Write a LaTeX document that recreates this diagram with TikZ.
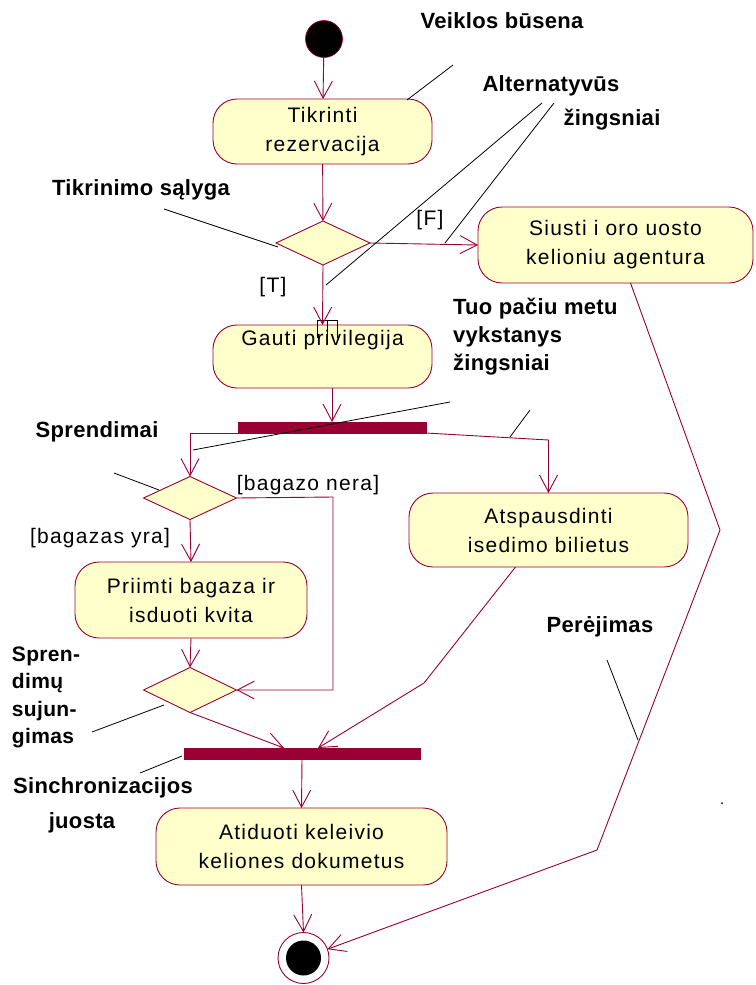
\documentclass[tikz,border=0pt]{standalone}
\usepackage{fontspec}
\setmainfont{Liberation Sans}[LetterSpace=6]
\newfontfamily\notefont{Liberation Sans}[LetterSpace=1.5]
\usetikzlibrary{arrows.meta,shapes.geometric,calc}

\definecolor{rosered}{HTML}{990033}
\definecolor{roseyellow}{HTML}{FFFFCC}

\begin{document}
\begin{tikzpicture}[x=1pt,y=-1pt,
  every node/.style={inner sep=0pt, outer sep=0pt},
  act/.style={rectangle, rounded corners=24pt, draw=rosered, fill=roseyellow,
    line width=0.9pt, align=center, font=\fontsize{21}{29}\selectfont},
  dec/.style={diamond, draw=rosered, fill=roseyellow, line width=0.9pt,
    minimum width=94pt, minimum height=44pt},
  sync/.style={rectangle, fill=rosered, draw=rosered, minimum height=11pt},
  flow/.style={draw=rosered, line width=0.9pt,
    -{Straight Barb[length=17pt,width=18pt,line width=0.9pt]}},
  guard/.style={font=\fontsize{21}{25}\selectfont},
  note/.style={font=\notefont\bfseries\fontsize{22}{28}\selectfont, align=left},
  pointer/.style={draw=black, line width=0.8pt},
]
\useasboundingbox[fill=white] (0,0) rectangle (755,985);

% ---- states and activities ----
\node[circle, fill=black, draw=rosered, line width=0.6pt, minimum size=37pt] (start) at (324,39) {};
\node[act, minimum width=219pt, minimum height=65pt] (tik) at (322.5,131.5) {Tikrinti\\rezervacija};
\node[dec] (d1) at (323,243) {};
\node[act, minimum width=275pt, minimum height=76pt] (siu) at (615.5,245) {Siusti i oro uosto\\kelioniu agentura};
\node[act, minimum width=219pt, minimum height=63pt] (gau) at (322.5,356.5) {Gauti privilegija\\\strut};
\node[sync, minimum width=188pt] (bar1) at (332,427.5) {};
\node[dec, minimum width=93pt, minimum height=43pt] (d2) at (190,498) {};
\node[act, minimum width=279pt, minimum height=74pt] (atsp) at (548.5,530) {Atspausdinti\\isedimo bilietus};
\node[act, minimum width=232pt, minimum height=76pt] (pri) at (191,600) {Priimti bagaza ir\\isduoti kvita};
\node[dec, minimum width=93pt, minimum height=45pt] (d3) at (190,690) {};
\node[sync, minimum width=236pt] (bar2) at (302,753.5) {};
\node[act, minimum width=291pt, minimum height=77pt] (ati) at (301.5,846.5) {Atiduoti keleivio\\keliones dokumetus};
\node[circle, draw=rosered, fill=white, line width=0.9pt, minimum size=51pt] (fin) at (303.5,958) {};
\node[circle, fill=black, minimum size=35pt] (finc) at (fin) {};

% small glyph boxes over the entry of "Gauti privilegija"
\draw[black, line width=0.8pt] (317,338) -- (317,320) -- (337,320) -- (337,338)
  (327,320) -- (327,338);

% ---- transitions ----
\coordinate (j1) at (333,497);
\coordinate (j2) at (333,690);
\coordinate (k1) at (424,683);
\coordinate (m1) at (720,530);
\coordinate (m2) at (597,850);

\draw[flow] (start) -- (tik);
\draw[flow] (tik) -- (d1);
\draw[flow] (d1.east) -- (siu.west);
\draw[flow] (d1.south) -- (gau.north);
\draw[flow] (bar1.north |- gau.south) -- (bar1.north);
\draw[flow] (bar1.south west) -| (d2.north);
\draw[flow] (bar1.south east) -- ($(atsp.north)+(0,-53)$) -- (atsp.north);
\draw[flow] (d2.east) -- (j1) -- (j2) -- (d3.east);
\draw[flow] (d2.south) -- (pri.north);
\draw[flow] (pri.south) -- (d3.north);
\draw[flow] (d3.south) -- ([xshift=-18pt]bar2.north);
\draw[flow] ([xshift=-33pt]atsp.south) -- (k1) -- ([xshift=16pt]bar2.north);
\draw[flow] (bar2.south) -- (ati.north);
\draw[flow] (ati.south) -- (fin.north);
\draw[flow] ([xshift=15pt]siu.south) -- (m1) -- (m2) -- (fin);

% ---- guards ----
\node[guard] (gF) at (430,220) {[F]};
\node[guard] (gT) at (273,287) {[T]};
\node[guard] (gnera) at (308,485) {[bagazo nera]};
\node[guard] (gyra) at (100,538) {[bagazas yra]};

% ---- annotations ----
\node[note] (nVeik) at (502,21) {Veiklos būsena};
\node[note] (nAlt) at (551,86) {Alternatyvūs};
\node[note] (nZing) at (612,120) {žingsniai};
\node[note] (nTikr) at (141,190) {Tikrinimo sąlyga};
\node[note, anchor=north west] (nTuo) at (453,298) {Tuo pačiu metu\\vykstanys\\žingsniai};
\node[note] (nSpr) at (97,432) {Sprendimai};
\node[note] (nPer) at (600,627) {Perėjimas};
\node[note, anchor=north west, font=\notefont\bfseries\fontsize{21}{27.3}\selectfont] (nSuj) at (12,647) {Spren-\\dimų\\sujun-\\gimas};
\node[note] (nSinc) at (103,788) {Sinchronizacijos};
\node[note] (nJuo) at (82,823) {juosta};

\draw[pointer] (453,65) -- (407,100);
\draw[pointer] (542,103) -- (326,285);
\draw[pointer] (554,103) -- (445,243);
\draw[pointer] (164,209) -- (278,247);
\draw[pointer] (450,402) -- (193,450);
\draw[pointer] (530,410) -- (510,437);
\draw[pointer] (114,473) -- (159,490);
\draw[pointer] (92,732) -- (164,705);
\draw[pointer] (140,773) -- (182,756);
\draw[pointer] (607,660) -- (638,740);

\fill[black] (722,803) circle (1pt);
\end{tikzpicture}
\end{document}
